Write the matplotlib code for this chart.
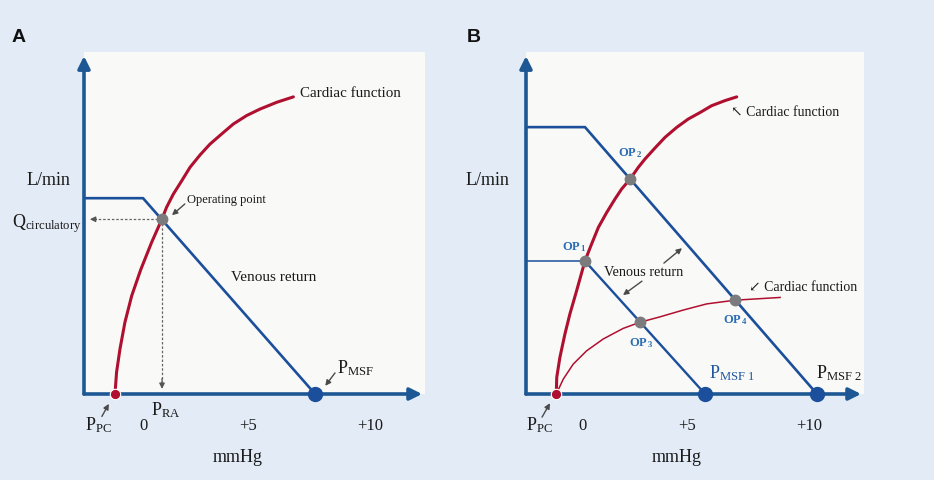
import matplotlib
matplotlib.use("Agg")
import matplotlib.pyplot as plt

# ---- colours ----
BG = "#e3ebf6"
PANEL = "#f9f9f7"
AXIS_C = "#1d5894"
VR_C = "#1b4f9b"
CF_C = "#b01030"
OP_C = "#7b7b7d"
TXT_C = "#1a1a1a"
OPTXT_C = "#2c6db3"
GREY_ARROW = "#4a4a4a"

plt.rcParams["font.family"] = ["Liberation Serif", "DejaVu Serif"]
plt.rcParams["mathtext.fontset"] = "custom"
plt.rcParams["mathtext.rm"] = "Liberation Serif"
plt.rcParams["mathtext.it"] = "Liberation Serif:italic"
plt.rcParams["mathtext.bf"] = "Liberation Serif:bold"

# ---- data (x = mmHg, y = L/min, schematic units) ----
tick_pos = [0, 4.6, 10]
tick_labels = ["0", "+5", "+10"]

# panel A
a_cf_x = [-1.28, -1.21, -1.06, -0.84, -0.54, -0.14, 0.34, 0.80, 1.00, 1.30, 1.67, 2.04,
          2.48, 2.92, 3.44, 3.95, 4.54, 5.13, 5.87, 6.61]
a_cf_y = [0.00, 0.64, 1.32, 2.11, 2.89, 3.66, 4.46, 5.15, 5.49, 5.88, 6.27, 6.67,
          7.03, 7.35, 7.65, 7.94, 8.19, 8.38, 8.58, 8.74]
a_vr_x = [-2.65, -0.04, 7.57]
a_vr_y = [5.76, 5.76, 0.00]
a_op = (0.80, 5.14)
a_ppc = -1.30
a_pmsf = 7.57

# panel B
b_cf1_x = [-1.18, -1.16, -1.02, -0.80, -0.58, -0.28, 0.09, 0.38, 0.68, 1.05, 1.42, 1.71,
           2.08, 2.45, 2.74, 3.19, 3.63, 4.14, 4.66, 5.18, 5.69, 6.28, 6.80]
b_cf1_y = [0.00, 0.49, 1.08, 1.76, 2.35, 3.04, 3.92, 4.41, 4.90, 5.34, 5.74, 6.03,
           6.32, 6.67, 6.91, 7.24, 7.55, 7.84, 8.09, 8.28, 8.48, 8.63, 8.74]
b_cf2_x = [-1.18, -0.87, -0.43, 0.16, 0.90, 1.78, 2.52, 3.41, 4.44, 5.47, 6.73, 8.72]
b_cf2_y = [0.00, 0.44, 0.88, 1.27, 1.62, 1.93, 2.11, 2.27, 2.47, 2.65, 2.76, 2.84]
b_vr1_x = [0.09, 5.40]          # lower venous return (slope part)
b_vr1_y = [3.91, 0.00]
b_vr1_plateau = 3.91
b_vr2_x = [-2.52, 0.09, 10.35]  # upper venous return
b_vr2_y = [7.85, 7.85, 0.00]
b_op_x = [0.09, 2.08, 2.52, 6.73]
b_op_y = [3.91, 6.32, 2.11, 2.76]
b_op_names = ["1", "2", "3", "4"]
b_op_lbl_x = [-0.93, 1.55, 2.04, 6.19]
b_op_lbl_y = [4.35, 7.12, 1.53, 2.21]
b_ppc = -1.18
b_pmsf = [5.40, 10.35]

YMAX = 10.06


def base_axes(rect, xmin):
    ax = fig.add_axes(rect)
    ax.set_facecolor(PANEL)
    ax.set_xlim(xmin, 12.43)
    ax.set_ylim(0, YMAX)
    for s in ax.spines.values():
        s.set_visible(False)
    ax.set_xticks([])
    ax.set_yticks([])
    ax_arrow = dict(arrowstyle="-|>", color=AXIS_C, lw=2.6, mutation_scale=18,
                    shrinkA=0, shrinkB=0)
    ax.annotate("", xy=(12.3, 0), xytext=(xmin, 0), arrowprops=ax_arrow,
                annotation_clip=False, zorder=4)
    ax.annotate("", xy=(xmin, 9.94), xytext=(xmin, 0), arrowprops=ax_arrow,
                annotation_clip=False, zorder=4)
    for p, t in zip(tick_pos, tick_labels):
        ax.text(p, -0.91, t, ha="center", va="center", fontsize=12, color=TXT_C, clip_on=False)
    ax.text(4.14, -1.85, "mmHg", ha="center", va="center", fontsize=13, color=TXT_C, clip_on=False)
    ax.text(-4.22, 6.32, "L/min", ha="center", va="center", fontsize=13, color=TXT_C, clip_on=False)
    return ax


def grey_arrow(ax, start, end):
    ax.annotate("", xy=end, xytext=start,
                arrowprops=dict(arrowstyle="-|>", color=GREY_ARROW, lw=1.0,
                                mutation_scale=8, shrinkA=0, shrinkB=0),
                annotation_clip=False, zorder=6)


fig = plt.figure(figsize=(9.34, 4.81), dpi=100)
fig.patch.set_facecolor(BG)

# ================= panel A =================
ax = base_axes([84 / 934, 86 / 481, 341 / 934, 342 / 481], -2.65)
ax.plot(a_vr_x, a_vr_y, color=VR_C, lw=1.9, zorder=2, solid_capstyle="butt")
ax.plot(a_cf_x, a_cf_y, color=CF_C, lw=2.2, zorder=3, solid_capstyle="round",
        solid_joinstyle="round")

# dashed guides from the operating point
ox, oy = a_op
ax.plot([ox, -2.2], [oy, oy], color="#666666", lw=0.9, dashes=(2, 1.5), zorder=2)
ax.annotate("", xy=(-2.39, oy), xytext=(-2.1, oy),
            arrowprops=dict(arrowstyle="-|>", color="#555555", lw=0.9, mutation_scale=8,
                            shrinkA=0, shrinkB=0), zorder=2)
ax.plot([ox, ox], [oy, 0.35], color="#666666", lw=0.9, dashes=(2, 1.5), zorder=2)
ax.annotate("", xy=(ox, 0.15), xytext=(ox, 0.45),
            arrowprops=dict(arrowstyle="-|>", color="#555555", lw=0.9, mutation_scale=8,
                            shrinkA=0, shrinkB=0), zorder=2)

ax.plot([ox], [oy], "o", ms=7.5, color=OP_C, zorder=5)
ax.plot([a_ppc], [0], "o", ms=7.5, color=CF_C, mec="white", mew=0.8, zorder=6, clip_on=False)
ax.plot([a_pmsf], [0], "o", ms=10, color=VR_C, zorder=6, clip_on=False)

ax.text(6.90, 8.88, "Cardiac function", fontsize=10.8, va="center", color=TXT_C)
ax.text(1.90, 5.74, "Operating point", fontsize=9, va="center", color=TXT_C)
grey_arrow(ax, (1.81, 5.59), (1.24, 5.26))
ax.text(3.85, 3.47, "Venous return", fontsize=11, va="center", color=TXT_C)
ax.text(8.54, 0.65, r"P$_{\mathrm{MSF}}$", fontsize=13, va="baseline", color=TXT_C)
grey_arrow(ax, (8.45, 0.62), (8.02, 0.24))
ax.text(-2.61, -1.03, r"P$_{\mathrm{PC}}$", fontsize=13, va="baseline", color=TXT_C, clip_on=False)
grey_arrow(ax, (-1.86, -0.66), (-1.55, -0.29))
ax.text(0.31, -0.59, r"P$_{\mathrm{RA}}$", fontsize=13, va="baseline", color=TXT_C, clip_on=False)
ax.text(-5.84, 4.94, r"Q$_{\mathrm{circulatory}}$", fontsize=13, va="baseline", color=TXT_C,
        clip_on=False)

# ================= panel B =================
bx = base_axes([526 / 934, 86 / 481, 338 / 934, 342 / 481], -2.52)
bx.plot(b_vr2_x, b_vr2_y, color=VR_C, lw=1.9, zorder=2, solid_capstyle="butt")
bx.plot([-2.52, b_vr1_x[0]], [b_vr1_plateau, b_vr1_plateau], color=VR_C, lw=1.1, zorder=2)
bx.plot(b_vr1_x, b_vr1_y, color=VR_C, lw=1.7, zorder=2)
bx.plot(b_cf2_x, b_cf2_y, color=CF_C, lw=1.1, zorder=3, solid_joinstyle="round")
bx.plot(b_cf1_x, b_cf1_y, color=CF_C, lw=2.2, zorder=3, solid_capstyle="round",
        solid_joinstyle="round")

bx.plot(b_op_x, b_op_y, "o", ls="none", ms=7.5, color=OP_C, zorder=5)
for name, lx, ly in zip(b_op_names, b_op_lbl_x, b_op_lbl_y):
    bx.text(lx, ly, "OP$_{\\,\\mathbf{" + name + "}}$", fontsize=9, fontweight="bold",
            va="center", color=OPTXT_C)

bx.plot([b_ppc], [0], "o", ms=7.5, color=CF_C, mec="white", mew=0.8, zorder=6, clip_on=False)
bx.plot(b_pmsf, [0, 0], "o", ls="none", ms=10, color=VR_C, zorder=6, clip_on=False)

bx.text(6.55, 8.30, "\u2196 Cardiac function", fontsize=10, va="center", color=TXT_C)
bx.text(7.35, 3.15, "\u2199 Cardiac function", fontsize=10, va="center", color=TXT_C)
bx.text(2.70, 3.59, "Venous return", fontsize=10.3, ha="center", va="center", color=TXT_C)
grey_arrow(bx, (3.58, 3.85), (4.38, 4.29))
grey_arrow(bx, (2.61, 3.32), (1.77, 2.91))
bx.text(5.58, 0.50, r"P$_{\mathrm{MSF\ 1}}$", fontsize=13, va="baseline", color="#1f56a0")
bx.text(10.31, 0.50, r"P$_{\mathrm{MSF\ 2}}$", fontsize=13, va="baseline", color=TXT_C,
        clip_on=False)
bx.text(-2.52, -1.03, r"P$_{\mathrm{PC}}$", fontsize=13, va="baseline", color=TXT_C, clip_on=False)
grey_arrow(bx, (-1.81, -0.68), (-1.46, -0.27))

# panel letters
fig.text(12 / 934, 1 - 42 / 481, "A", family="Liberation Sans", fontweight="bold",
         fontsize=14, va="baseline", color="#111111")
fig.text(467 / 934, 1 - 42 / 481, "B", family="Liberation Sans", fontweight="bold",
         fontsize=14, va="baseline", color="#111111")

fig.savefig("out.png", dpi=100, facecolor=BG)
